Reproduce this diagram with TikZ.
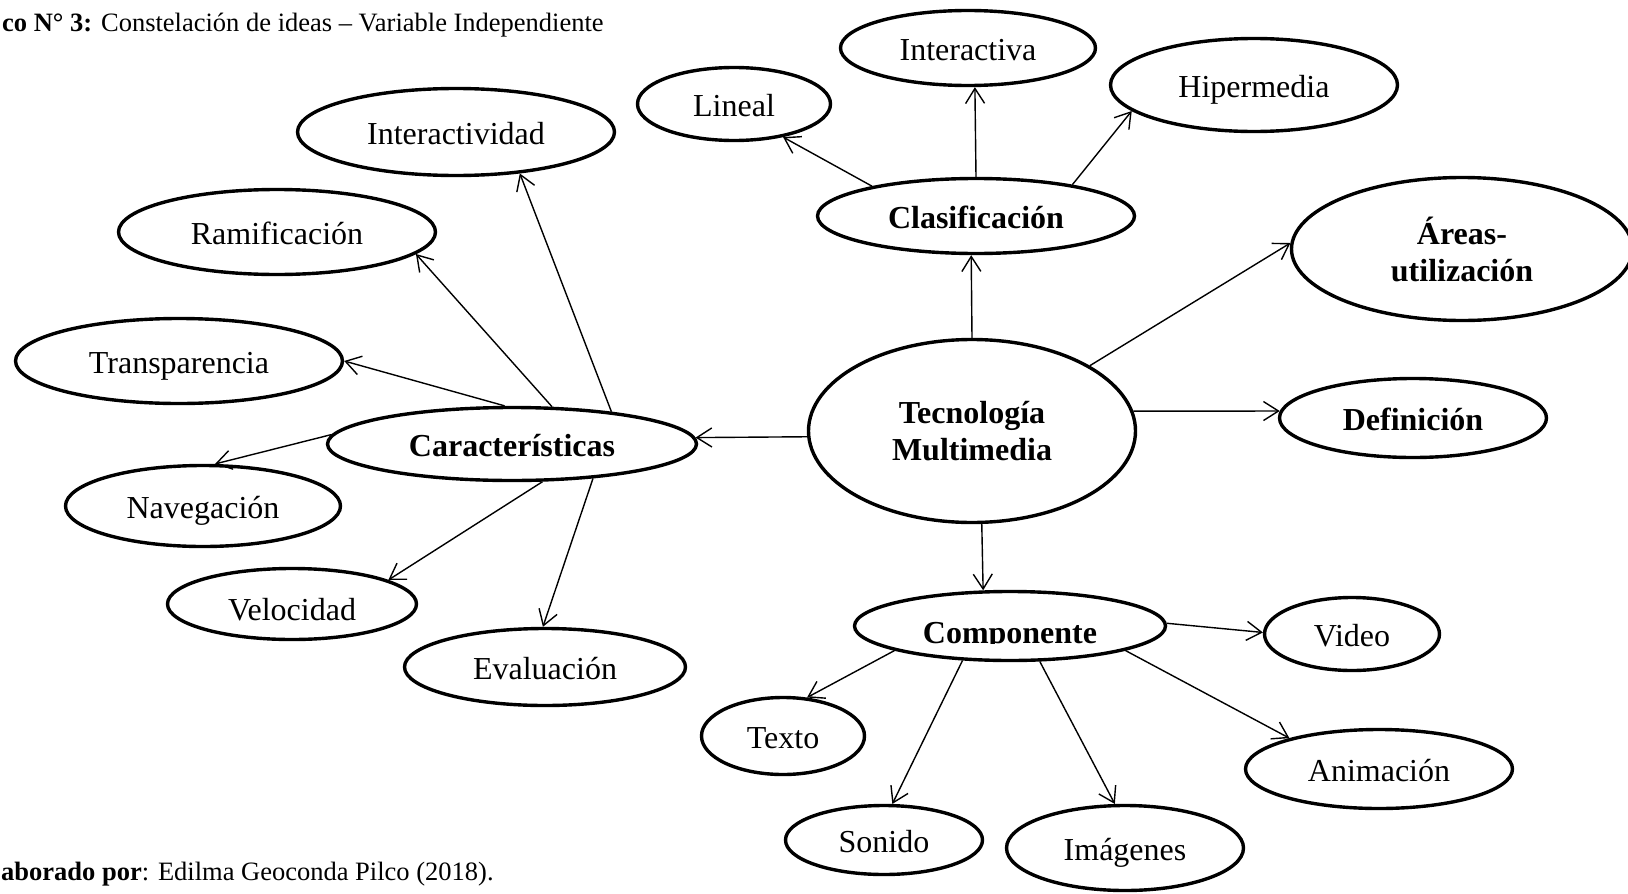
\documentclass[tikz,border=0pt]{standalone}
\usepackage{fontspec}
\setmainfont{Liberation Serif}
\usetikzlibrary{arrows.meta,shapes.geometric}

\begin{document}
\begin{tikzpicture}[x=1pt,y=-1pt,
  idea/.style={ellipse, draw, line width=3.4pt, inner sep=0pt,
    font=\fontsize{32}{37}\selectfont, text height=25pt, text depth=0pt},
  keyidea/.style={idea, font=\bfseries\fontsize{32}{37}\selectfont},
  twoline/.style={keyidea, align=center, text height=, text depth=},
  lbl/.style={inner sep=0pt, anchor=base, font=\fontsize{32}{37}\selectfont},
  arr/.style={-{Straight Barb[length=15pt,width=19pt]}, line width=1.4pt},
  note/.style={inner sep=0pt, anchor=base west, font=\fontsize{26.5}{30}\selectfont}
]
\useasboundingbox (0,0) rectangle (1628,894);
\clip (0,0) rectangle (1628,894);

% caption lines
\node[note] (title) at (2,31) {\textbf{co N° 3:} Constelación de ideas – Variable Independiente};
\node[note] (credit) at (1,880) {\textbf{aborado por}: Edilma Geoconda Pilco (2018).};

% central concept and its main branches
\node[twoline, minimum width=327, minimum height=183] (tec) at (972,431) {Tecnología\\Multimedia};
\node[keyidea, minimum width=369, minimum height=73] (car) at (512,444) {Características};
\node[keyidea, minimum width=317, minimum height=75] (clas) at (976,216) {Clasificación};
\node[twoline, minimum width=341, minimum height=143] (areas) at (1462,249) {Áreas-\\utilización};
\node[keyidea, minimum width=267, minimum height=79] (defin) at (1413,418) {Definición};
\node[idea, minimum width=311, minimum height=69] (comp) at (1010,626) {};

% characteristics
\node[idea, minimum width=317, minimum height=87] (iactd) at (456,132) {Interactividad};
\node[idea, minimum width=317, minimum height=85] (ramif) at (277,232) {Ramificación};
\node[idea, minimum width=327, minimum height=85] (transp) at (179,361) {Transparencia};
\node[idea, minimum width=275, minimum height=81] (naveg) at (203,506) {Navegación};
\node[idea, minimum width=249, minimum height=71] (veloc) at (292,604) {};
\node[idea, minimum width=281, minimum height=77] (evalu) at (545,667) {};

% classification
\node[idea, minimum width=255, minimum height=75] (iactv) at (968,48) {Interactiva};
\node[idea, minimum width=193, minimum height=73] (lineal) at (734,104) {Lineal};
\node[idea, minimum width=287, minimum height=93] (hiper) at (1254,85) {Hipermedia};

% components
\node[idea, minimum width=175, minimum height=73] (video) at (1352,634) {Video};
\node[idea, minimum width=163, minimum height=77] (texto) at (783,736) {Texto};
\node[idea, minimum width=267, minimum height=79] (anim) at (1379,769) {Animación};
\node[idea, minimum width=197, minimum height=69] (sonido) at (884,840) {Sonido};
\node[idea, minimum width=237, minimum height=85] (imag) at (1125,848) {Imágenes};

% labels whose lower edge is cut off by their text frame
\begin{scope}
  \clip (854,560) rectangle (1165,643);
  \node[lbl, font=\bfseries\fontsize{32}{37}\selectfont] (compT) at (1010,643) {Componente};
\end{scope}
\begin{scope}
  \clip (166,560) rectangle (419,620.5);
  \node[lbl] (velocT) at (292,620) {Velocidad};
\end{scope}
\begin{scope}
  \clip (403,620) rectangle (687,679.5);
  \node[lbl] (evaluT) at (545,679) {Evaluación};
\end{scope}

% connectors
\draw[arr] (tec.182) -- (car.2);
\draw[arr] (tec.90) -- (clas.263);
\draw[arr] (tec.29) -- (areas.178);
\draw[arr] (tec.7) -- (defin.177);
\draw[arr] (tec.-84) -- (comp.127);

\draw[arr] (car.18) -- (iactd.-33);
\draw[arr] (car.43) -- (ramif.-9);
\draw[arr] (car.101) -- (transp.0);
\draw[arr] (car.177) -- (naveg.74);
\draw[arr] (car.-51) -- (veloc.14);
\draw[arr] (car.-23) -- (evalu.93);

\draw[arr] (clas.164) -- (lineal.-34);
\draw[arr] (clas.90) -- (iactv.-80);
\draw[arr] (clas.18) -- (hiper.192);

\draw[arr] (comp.1) -- (video.179);
\draw[arr] (comp.192) -- (texto.58);
\draw[arr] (comp.216) -- (sonido.77);
\draw[arr] (comp.-50) -- (imag.103);
\draw[arr] (comp.-12) -- (anim.161);
\end{tikzpicture}
\end{document}
